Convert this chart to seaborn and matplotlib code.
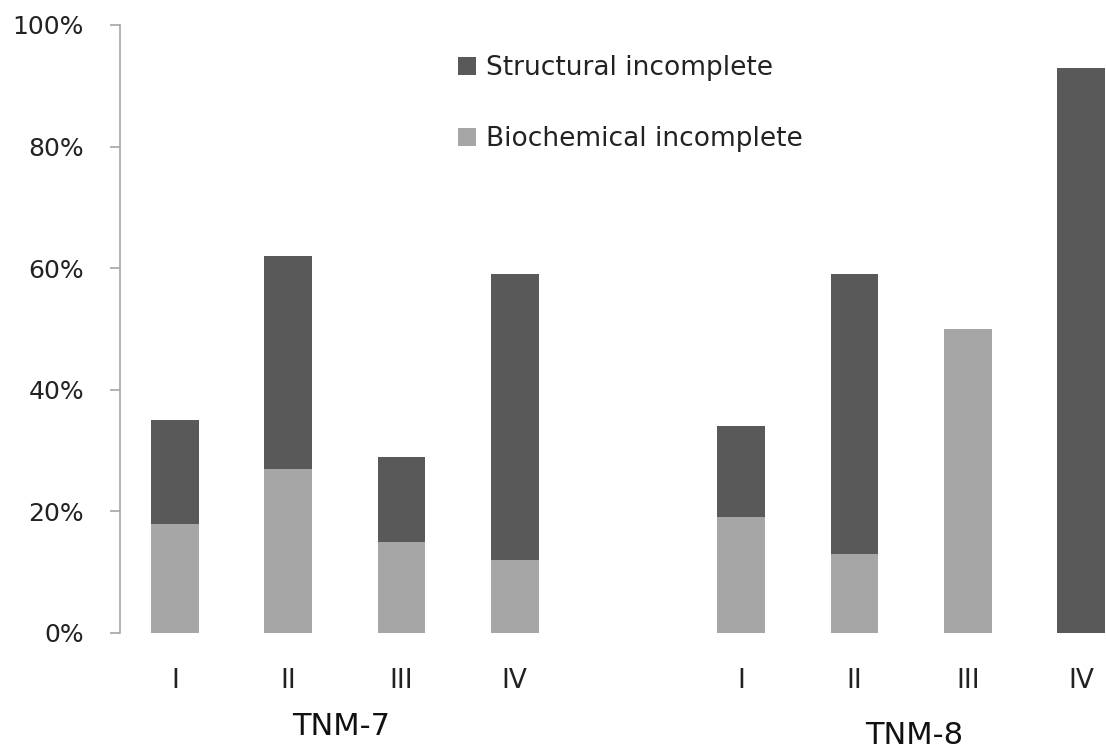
import matplotlib

matplotlib.use("Agg")
import matplotlib.pyplot as plt
import numpy as np
import pandas as pd
import seaborn as sns
from matplotlib.patches import Patch
from matplotlib.ticker import PercentFormatter

# values in percent
stages = ["I", "II", "III", "IV"]
editions = ["TNM-7", "TNM-8"]
tnm7_biochem = [18, 27, 15, 12]
tnm7_struct = [17, 35, 14, 47]
tnm8_biochem = [19, 13, 50, 0]
tnm8_struct = [15, 46, 0, 93]

DARK = "#595959"
LIGHT = "#A6A6A6"
AXIS_GREY = "#A6A6A6"

rows = []
for e, (bio, st) in enumerate([(tnm7_biochem, tnm7_struct), (tnm8_biochem, tnm8_struct)]):
    for i, stage in enumerate(stages):
        rows.append({
            "edition": editions[e],
            "stage": stage,
            "pos": i + e * (len(stages) + 1),   # one empty slot between editions
            "biochem": bio[i],
            "total": bio[i] + st[i],
        })
df = pd.DataFrame(rows)

sns.set_style("white")
plt.rcParams["font.family"] = ["DejaVu Sans"]

fig = plt.figure(figsize=(11.06, 7.55), dpi=100)
ax = fig.add_axes([0.1085, 0.1616, 1 - 0.1085, 0.8053])

# stacked look: full height in dark, biochemical part over it in light
sns.barplot(data=df, x="pos", y="total", native_scale=True, width=0.42,
            color=DARK, saturation=1, errorbar=None, linewidth=0, ax=ax)
sns.barplot(data=df, x="pos", y="biochem", native_scale=True, width=0.42,
            color=LIGHT, saturation=1, errorbar=None, linewidth=0, ax=ax)

ax.set_xlim(-0.485, 8.22)
ax.set_ylim(0, 100)
ax.set_yticks(np.arange(0, 101, 20))
ax.yaxis.set_major_formatter(PercentFormatter(100, decimals=0))
ax.set_xticks(df["pos"])
ax.set_xticklabels(df["stage"])
ax.set_xlabel("")
ax.set_ylabel("")

for side in ["top", "right", "bottom"]:
    ax.spines[side].set_visible(False)
ax.spines["left"].set_color(AXIS_GREY)
ax.spines["left"].set_linewidth(1.2)
ax.tick_params(axis="y", direction="out", length=7, width=1.2, color=AXIS_GREY,
               pad=19, labelsize=18, labelcolor="#222222", left=True)
ax.tick_params(axis="x", length=0, pad=25, labelsize=19, labelcolor="#222222")

# edition labels under each group
for e, (name, shift) in enumerate(zip(editions, [-0.03, 0.03])):
    centre = df.loc[df["edition"] == name, "pos"].mean()
    ax.text(centre + shift, -0.153 - 0.016 * e, name, transform=ax.get_xaxis_transform(),
            ha="center", va="center", fontsize=22, color="#111111")

handles = [Patch(facecolor=DARK, edgecolor="none", label="Structural incomplete"),
           Patch(facecolor=LIGHT, edgecolor="none", label="Biochemical incomplete")]
fig.legend(handles=handles, loc="upper left", bbox_to_anchor=(458 / 1106, 1 - 55 / 755),
           frameon=False, fontsize=19, labelspacing=1.72, handlelength=0.7,
           handleheight=0.7, handletextpad=0.35, borderaxespad=0, borderpad=0,
           labelcolor="#222222")

fig.savefig("out.png", dpi=100)
plt.close(fig)
